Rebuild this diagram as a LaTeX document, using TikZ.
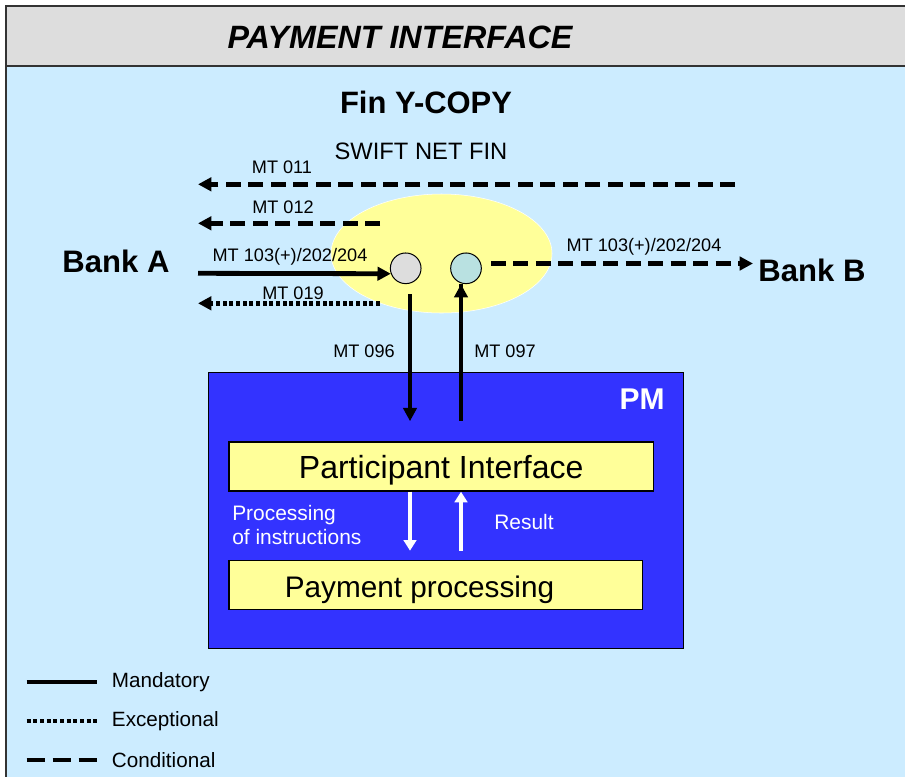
\documentclass[tikz,border=0pt]{standalone}
\usepackage{fontspec}
\setmainfont{Liberation Sans}
\usetikzlibrary{arrows.meta}
\usetikzlibrary{positioning}
\usetikzlibrary{shapes.geometric}
\definecolor{headgray}{HTML}{DDDDDD}
\definecolor{paleblue}{HTML}{CCECFF}
\definecolor{paleyellow}{HTML}{FFFF99}
\definecolor{pmblue}{HTML}{3333FF}
\definecolor{paleteal}{HTML}{B9E1E1}
\tikzset{frame/.style = {draw = black!80, line width = 1.5pt}}
\tikzset{msg/.style = {line width = 3.6pt, -{Triangle[length = 10pt, width = 10pt]}}}
\tikzset{mand/.style = {msg}}
\tikzset{cond/.style = {msg, dash pattern = on 11.25pt off 5.6pt}}
\tikzset{excp/.style = {msg, dash pattern = on 3pt off 2pt}}
\tikzset{wmsg/.style = {white, line width = 3pt, -{Triangle[length = 8pt, width = 9.5pt]}}}
\tikzset{lbl/.style = {font = \fontsize{13.6}{16}\selectfont}}
\tikzset{bank/.style = {font = \fontsize{23.3}{28}\selectfont\bfseries}}
\tikzset{port/.style = {draw, circle, line width = 0.75pt, minimum size = 23pt, inner sep = 0}}
\tikzset{pibox/.style = {draw, fill = paleyellow, line width = 1pt, minimum height = 36.75pt}}
\tikzset{legline/.style = {line width = 3pt}}
\tikzset{legtext/.style = {anchor = west, inner sep = 0, font = \fontsize{15.5}{18}\selectfont}}

\begin{document}
\begin{tikzpicture}[x = 0.75pt, y = -0.75pt]
    \useasboundingbox (0, 0) rectangle (905, 776);
    \fill [white] (0, 0) rectangle (905, 776);
    \draw [frame, fill = paleblue] (6, 66) rectangle (920, 790);
    \draw [frame, fill = headgray] (6, 6) rectangle (920, 66);
    \node (title) at (400, 37) {\fontsize{24.2}{29}\selectfont\bfseries\itshape PAYMENT INTERFACE};

    \node (fin) at (426, 102) {\fontsize{23.2}{28}\selectfont\bfseries Fin Y-COPY};
    \node (swift) at (421, 151) {\fontsize{17.8}{21}\selectfont SWIFT NET FIN};
    \node [ellipse, fill = paleyellow, draw = white, minimum width = 165.75pt, minimum height = 89.25pt] (net) at (441.5, 253.5) {};

    \node [bank] (banka) at (116, 261) {Bank A};
    \node [bank] (bankb) at (812, 270) {Bank B};
    \node [port, fill = headgray] (inport) at (405.7, 268.3) {};
    \node [port, fill = paleteal] (outport) at (466, 268.3) {};

    % messages to and from Bank A
    \coordinate (s011) at (735, 184.3);
    \coordinate (e011) at (198, 184.3);
    \draw [cond] (s011) -- (e011);
    \node [lbl] (l011) at (282, 167) {MT 011};

    \coordinate (s012) at (380, 223.3);
    \coordinate (e012) at (198, 223.3);
    \draw [cond] (s012) -- (e012);
    \node [lbl] (l012) at (283, 207) {MT 012};

    \coordinate (s103) at (198, 273.3);
    \draw [mand] (s103) -- (inport.200);
    \node [lbl] (l103) at (290, 257) {MT 103(+)/202/204};

    \coordinate (s019) at (380, 303.3);
    \coordinate (e019) at (198, 303.3);
    \draw [excp] (s019) -- (e019);
    \node [lbl] (l019) at (293, 293) {MT 019};

    % copy to Bank B
    \coordinate (sb) at (491, 263.5);
    \coordinate (eb) at (753, 263.5);
    \draw [cond] (sb) -- (eb);
    \node [lbl] (lb) at (644, 246.7) {MT 103(+)/202/204};

    % PM
    \node [draw, fill = pmblue, line width = 0.75pt, minimum width = 356.25pt, minimum height = 207pt] (pm) at (445.8, 510.3) {};
    \node [text = white] (pmlabel) at (642, 399) {\fontsize{22.5}{27}\selectfont\bfseries PM};
    \node [pibox, minimum width = 318.2pt, text depth = 0pt, font = \fontsize{24}{28}\selectfont] (pi) at (441.2, 466.5) {Participant Interface};
    \node [pibox, minimum width = 310.3pt] (pp) at (435.9, 585) {};
    \node [text depth = 0pt, font = \fontsize{22.3}{27}\selectfont] (pptext) at (419.5, 587) {Payment processing};

    \coordinate (lane1) at (410, 0);
    \coordinate (lane2) at (461, 0);
    \draw [mand] (inport.south -| lane1) ++(0, 10) -- (pm.north -| lane1) -- ++(0, 49.4);
    \draw [mand] (pm.north -| lane2) ++(0, 48.7) -- (outport.south -| lane2) ++(0, 0);
    \node [lbl] (l096) at (364, 351.7) {MT 096};
    \node [lbl] (l097) at (505, 351.7) {MT 097};

    \draw [wmsg] (pi.south -| lane1) -- ++(0, 59);
    \draw [wmsg] (pi.south -| lane2) ++(0, 59) -- (pi.south -| lane2);
    \node [anchor = west, align = left, inner sep = 0, text = white, font = \fontsize{15.7}{18.3}\selectfont] (proc) at (232, 525) {Processing\\of instructions};
    \node [text = white, font = \fontsize{15.7}{18}\selectfont] (result) at (524, 521.7) {Result};

    % legend
    \coordinate (lg1) at (26.7, 681.7);
    \coordinate (lg2) at (26.7, 720.7);
    \coordinate (lg3) at (26.7, 760);
    \draw [legline] (lg1) -- ++(70, 0);
    \draw [legline, dash pattern = on 3pt off 2pt] (lg2) -- ++(70, 0);
    \draw [legline, dash pattern = on 13.5pt off 6pt] (lg3) -- ++(70, 0);
    \node [legtext] (lmand) at (111.7, 681.7) {Mandatory};
    \node [legtext] (lexcp) at (111.7, 720.7) {Exceptional};
    \node [legtext] (lcond) at (111.7, 760) {Conditional};
\end{tikzpicture}
\end{document}
